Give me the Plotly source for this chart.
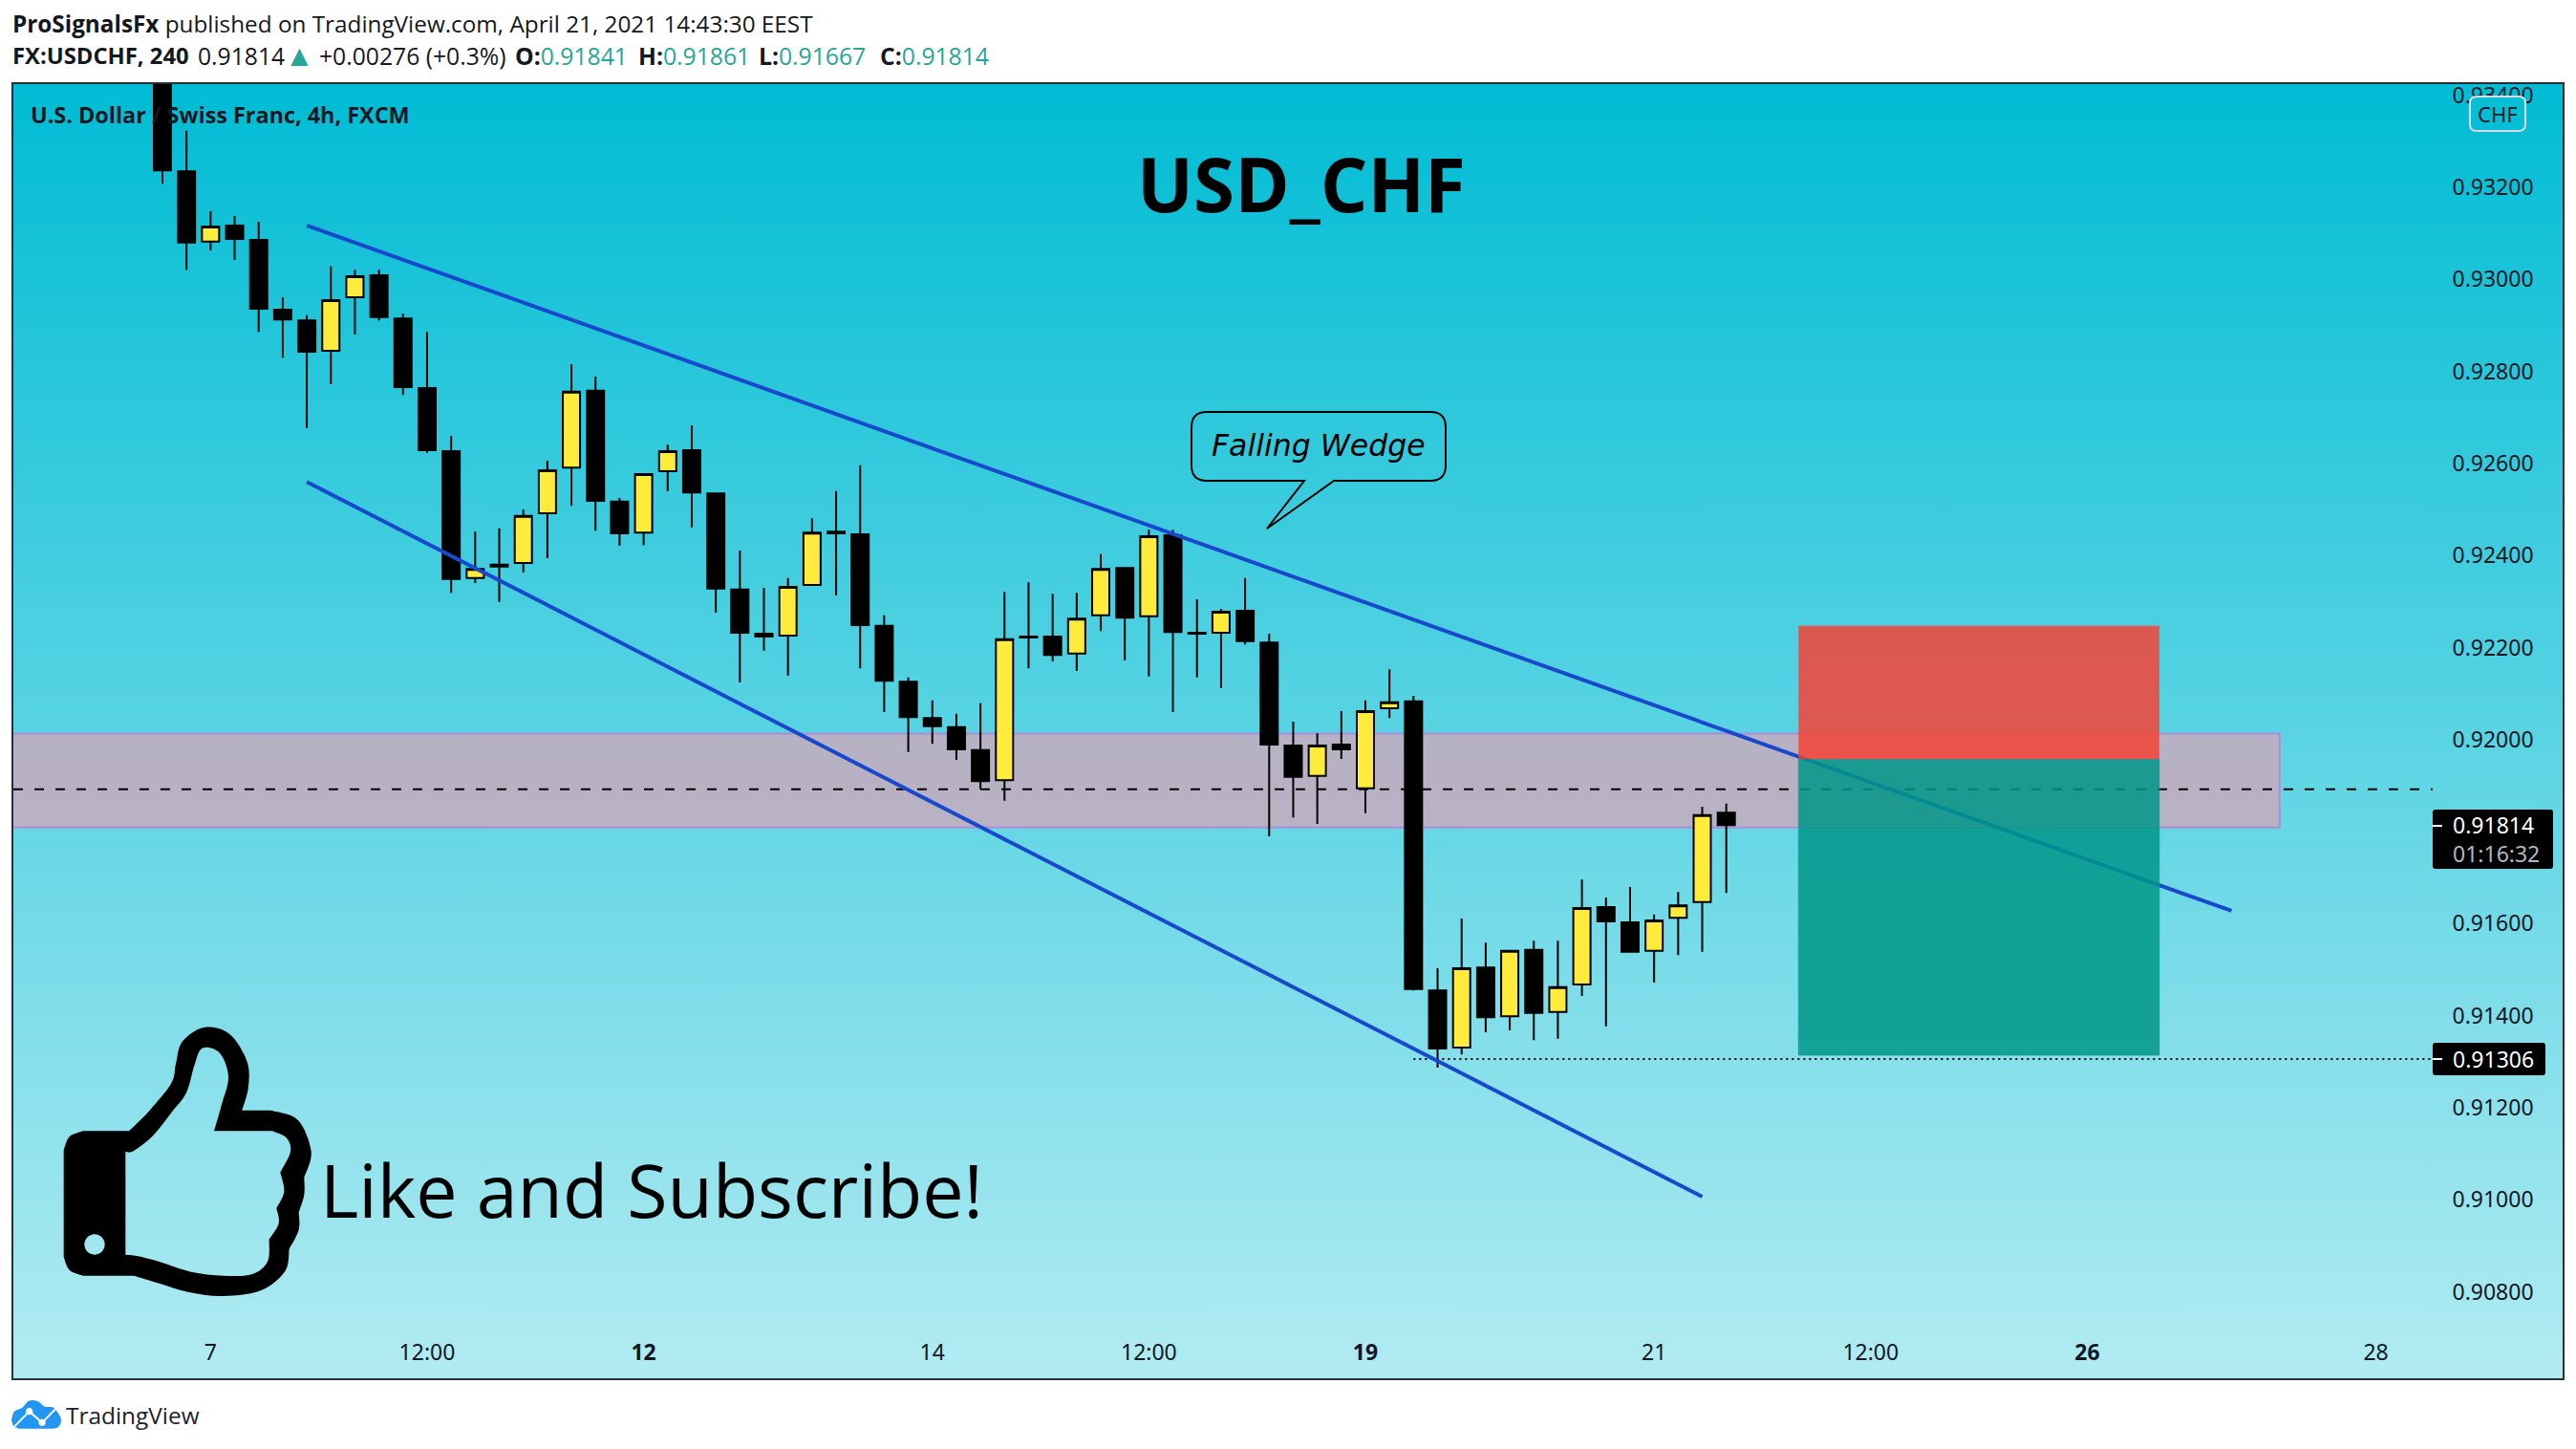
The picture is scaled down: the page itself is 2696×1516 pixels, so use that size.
import base64
import math
import plotly.graph_objects as go

# ---------- data ----------
bar_index = list(range(66))
opens = [.93482,.93235,.93082,.93117,.93086,.92934,.92911,.92845,.92961,.93009,.92915,.92764,.92627,.92351,.92380,.92384,.92492,.92591,.92758,.92517,.92450,.92583,.92629,.92535,.92326,.92230,.92226,.92336,.92452,.92446,.92247,.92126,.92047,.92027,.91977,.91912,.92224,.92224,.92187,.92270,.92373,.92268,.92444,.92232,.92232,.92280,.92211,.91987,.91921,.91989,.91894,.92068,.92083,.91455,.91331,.91505,.91399,.91543,.91408,.91468,.91636,.91603,.91541,.91613,.91647,.91841]
highs = [.93520,.93323,.93148,.93138,.93125,.92961,.92922,.93028,.93021,.93021,.92926,.92886,.92660,.92452,.92459,.92500,.92606,.92816,.92789,.92525,.92579,.92641,.92683,.92535,.92411,.92330,.92351,.92481,.92540,.92596,.92270,.92135,.92085,.92056,.92079,.92321,.92342,.92317,.92319,.92403,.92373,.92456,.92456,.92305,.92284,.92351,.92230,.92039,.92014,.92062,.92085,.92153,.92095,.91503,.91611,.91559,.91543,.91563,.91563,.91696,.91657,.91680,.91620,.91669,.91854,.91861]
lows = [.93208,.93021,.93063,.93042,.92886,.92830,.92677,.92772,.92880,.92911,.92749,.92623,.92319,.92340,.92299,.92363,.92394,.92508,.92454,.92421,.92423,.92540,.92461,.92276,.92124,.92193,.92139,.92334,.92313,.92155,.92060,.91973,.91991,.91956,.91892,.91867,.92155,.92170,.92149,.92236,.92172,.92137,.92060,.92135,.92112,.92207,.91790,.91831,.91817,.91958,.91840,.92047,.91455,.91287,.91316,.91364,.91368,.91347,.91350,.91443,.91377,.91537,.91472,.91532,.91539,.91667]
closes = [.93237,.93080,.93115,.93088,.92936,.92913,.92843,.92955,.93007,.92918,.92766,.92629,.92349,.92371,.92376,.92486,.92585,.92756,.92519,.92448,.92577,.92627,.92537,.92328,.92232,.92224,.92332,.92450,.92448,.92249,.92128,.92049,.92029,.91979,.91910,.92218,.92222,.92184,.92263,.92371,.92265,.92442,.92234,.92230,.92278,.92214,.91989,.91919,.91987,.91979,.92062,.92081,.91458,.91329,.91503,.91397,.91541,.91406,.91462,.91634,.91605,.91539,.91607,.91640,.91836,.91814]

price_ticks = [.908,.910,.912,.914,.916,.920,.922,.924,.926,.928,.930,.932,.934]
time_tick_index = [2, 11, 20, 32, 41, 50, 62, 71, 80, 92]
time_tick_labels = ["7", "12:00", "<b>12</b>", "14", "12:00", "<b>19</b>", "21", "12:00", "<b>26</b>", "28"]

upper_trend = (6, .93117, 86, .91628)
lower_trend = (6, .92560, 64, .91007)
zone_high, zone_low, zone_end = .92013, .91809, 88
stop_price, entry_price, target_price = .92247, .91957, .91314
box_start, box_end = 68, 83
level_dashed, level_dotted = .91892, .91306
last_price_text, countdown_text, low_price_text = "0.91814", "01:16:32", "0.91306"

# ---------- geometry ----------
W, H = 2696, 1516
L, R, T, B = 14, 2682, 88, 1442
BAR_PX = 25.18
X_AT_0 = 170.0
PX_PER_PRICE = 48150.0
Y_REF_PRICE, Y_REF_PX = .932, 196.0
x_range = [(L - X_AT_0) / BAR_PX, (R - X_AT_0) / BAR_PX]
y_range = [Y_REF_PRICE - (B - Y_REF_PX) / PX_PER_PRICE, Y_REF_PRICE + (Y_REF_PX - T) / PX_PER_PRICE]
axis_end = (2546 - X_AT_0) / BAR_PX

INK = "#131722"
TEAL = "#26a69a"
AXIS_FONT = "Noto Sans"
SIZE_AXIS = 23


def px(x, y):
    return (x - L) / (R - L), 1 - (y - T) / (B - T)


def fmt(x, y):
    a, b = px(x, y)
    return f"{a:.6f} {b:.6f}"


def smooth(points):
    """Catmull-Rom curve through points, after an existing current point."""
    out = []
    n = len(points)
    for i in range(n - 1):
        p0 = points[max(i - 1, 0)]
        p1 = points[i]
        p2 = points[i + 1]
        p3 = points[min(i + 2, n - 1)]
        c1 = (p1[0] + (p2[0] - p0[0]) / 6, p1[1] + (p2[1] - p0[1]) / 6)
        c2 = (p2[0] - (p3[0] - p1[0]) / 6, p2[1] - (p3[1] - p1[1]) / 6)
        out.append(f"C {fmt(*c1)} {fmt(*c2)} {fmt(*p2)}")
    return " ".join(out)


def curve_path(segments):
    """segments: list of point lists; each begins where the previous ended."""
    s = "M " + fmt(*segments[0][0])
    for seg in segments:
        s += " " + smooth(seg)
    return s + " Z"


def z7(points):
    """Convert coordinates measured on the 3x crop of the bottom-left corner."""
    return [(x / 3, 1040 + y / 3) for x, y in points]


def round_rect(x0, y0, x1, y1, r):
    return (f"M {fmt(x0 + r, y0)} L {fmt(x1 - r, y0)} Q {fmt(x1, y0)} {fmt(x1, y0 + r)} "
            f"L {fmt(x1, y1 - r)} Q {fmt(x1, y1)} {fmt(x1 - r, y1)} L {fmt(x0 + r, y1)} "
            f"Q {fmt(x0, y1)} {fmt(x0, y1 - r)} L {fmt(x0, y0 + r)} Q {fmt(x0, y0)} {fmt(x0 + r, y0)} Z")


def circle_pts(cx, cy, r, n=24):
    return [(cx + r * math.cos(2 * math.pi * k / n), cy + r * math.sin(2 * math.pi * k / n)) for k in range(n + 1)]


def paper_shape(path, **kw):
    return dict(type="path", xref="paper", yref="paper", path=path, **kw)


def note(text, x, y, size, color=INK, family="Open Sans", anchor="left", **kw):
    a, b = px(x, y)
    return dict(text=text, x=a, y=b, xref="paper", yref="paper", xanchor=anchor, yanchor="middle",
                showarrow=False, align=anchor if anchor != "middle" else "center", borderpad=0,
                font=dict(size=size, color=color, family=family, **kw))


# ---------- background gradient ----------
svg = ('<svg xmlns="http://www.w3.org/2000/svg" width="100" height="100" viewBox="0 0 100 100" preserveAspectRatio="none">'
       '<defs><linearGradient id="g" x1="0" y1="0" x2="0" y2="1"><stop offset="0" stop-color="#00bcd4"/>'
       '<stop offset="1" stop-color="#b2ebf2"/></linearGradient></defs><rect width="100" height="100" fill="url(#g)"/></svg>')
bg = "data:image/svg+xml;base64," + base64.b64encode(svg.encode()).decode()

fig = go.Figure(go.Candlestick(
    x=bar_index, open=opens, high=highs, low=lows, close=closes,
    increasing=dict(line=dict(color="#000000", width=2), fillcolor="#ffeb3b"),
    decreasing=dict(line=dict(color="#000000", width=2), fillcolor="#000000"),
    showlegend=False, hoverinfo="skip",
))

# ---------- shapes ----------
shapes = [
    dict(type="rect", x0=x_range[0] - 2, x1=zone_end, y0=zone_low, y1=zone_high, layer="below",
         fillcolor="rgba(206,167,188,0.8)", line=dict(color="rgba(178,130,222,0.85)", width=2)),
    dict(type="line", x0=x_range[0], x1=axis_end, y0=level_dashed, y1=level_dashed,
         line=dict(color="#000000", width=2, dash="10px,12px")),
    dict(type="line", x0=52, x1=axis_end, y0=level_dotted, y1=level_dotted,
         line=dict(color="#000000", width=2, dash="2px,4px")),
    dict(type="line", x0=upper_trend[0], y0=upper_trend[1], x1=upper_trend[2], y1=upper_trend[3],
         line=dict(color="#1848cc", width=4)),
    dict(type="line", x0=lower_trend[0], y0=lower_trend[1], x1=lower_trend[2], y1=lower_trend[3],
         line=dict(color="#1848cc", width=4)),
    dict(type="rect", x0=box_start, x1=box_end, y0=entry_price, y1=stop_price,
         fillcolor="rgba(244,67,54,0.85)", line=dict(width=0)),
    dict(type="rect", x0=box_start, x1=box_end, y0=target_price, y1=entry_price,
         fillcolor="rgba(0,150,136,0.85)", line=dict(color="rgba(0,150,136,0.5)", width=1)),
]

# speech bubble
r_b = 16
bubble = (f"M {fmt(1247 + r_b, 431)} L {fmt(1513 - r_b, 431)} Q {fmt(1513, 431)} {fmt(1513, 431 + r_b)} L {fmt(1513, 503 - r_b)} "
          f"Q {fmt(1513, 503)} {fmt(1513 - r_b, 503)} L {fmt(1396, 503)} L {fmt(1326, 553)} L {fmt(1365, 503)} "
          f"L {fmt(1247 + r_b, 503)} Q {fmt(1247, 503)} {fmt(1247, 503 - r_b)} L {fmt(1247, 431 + r_b)} Q {fmt(1247, 431)} {fmt(1247 + r_b, 431)} Z")
shapes.append(paper_shape(bubble, line=dict(color="#000000", width=2)))

# price badges
shapes.append(paper_shape(round_rect(2546, 847, 2672, 909, 3), fillcolor="#000000", line=dict(width=0)))
shapes.append(paper_shape(round_rect(2546, 1091, 2664, 1125, 3), fillcolor="#000000", line=dict(width=0)))
shapes.append(paper_shape(f"M {fmt(2546, 864)} L {fmt(2556, 864)}", line=dict(color="#ffffff", width=2)))
shapes.append(paper_shape(f"M {fmt(2546, 1108)} L {fmt(2556, 1108)}", line=dict(color="#ffffff", width=2)))

# currency badge
shapes.append(paper_shape(round_rect(2585, 101, 2643, 137, 7), fillcolor="#08bed6",
                          line=dict(color="#d5dbe0", width=2)))

# thumbs-up
outer = [
    z7([(260, 430), (405, 430)]),
    z7([(405, 430), (470, 365), (538, 280), (552, 220), (572, 150), (640, 105), (720, 125), (775, 210), (780, 290), (760, 365)]),
    z7([(760, 365), (850, 365)]),
    z7([(850, 365), (935, 395), (977, 495), (955, 575)]),
    z7([(955, 575), (955, 630), (938, 685)]),
    z7([(938, 685), (938, 740), (908, 800)]),
    z7([(908, 800), (895, 870), (820, 930), (700, 948), (590, 935), (500, 908), (420, 884)]),
    z7([(420, 884), (260, 884)]),
    z7([(260, 884), (218, 866), (200, 825)]),
    z7([(200, 825), (200, 490)]),
    z7([(200, 490), (218, 448), (260, 430)]),
]
inner = [
    z7([(394, 495), (420, 492), (480, 445), (540, 370), (585, 310), (610, 225), (635, 170), (690, 185), (717, 260), (695, 350), (672, 430)]),
    z7([(672, 430), (855, 430)]),
    z7([(855, 430), (900, 452), (912, 495), (880, 560)]),
    z7([(880, 560), (892, 620), (868, 672)]),
    z7([(868, 672), (875, 720), (845, 770)]),
    z7([(845, 770), (840, 840), (790, 880), (700, 884), (600, 872), (500, 840), (430, 822), (394, 818)]),
    z7([(394, 818), (394, 495)]),
]
hole = [z7(circle_pts(297, 786, 32))]
shapes.append(paper_shape(curve_path(outer) + " " + curve_path(inner) + " " + curve_path(hole),
                          fillcolor="#000000", fillrule="evenodd", line=dict(width=0)))

# TradingView logo
cloud = [
    z7([(36, 1335), (45, 1310), (70, 1298), (90, 1277), (118, 1278), (140, 1295), (165, 1297), (182, 1315), (192, 1338), (184, 1358), (168, 1364)]),
    z7([(168, 1364), (60, 1364)]),
    z7([(60, 1364), (42, 1355), (36, 1335)]),
]
shapes.append(paper_shape(curve_path(cloud), fillcolor="#2196f3", line=dict(width=0)))
a, b, c, d = z7([(45, 1358), (92, 1310), (132, 1345), (175, 1302)])
shapes.append(paper_shape(f"M {fmt(*a)} L {fmt(*b)} L {fmt(*c)} L {fmt(*d)}", line=dict(color="#ffffff", width=2)))
shapes.append(paper_shape(curve_path([z7(circle_pts(92, 1310, 11))]), fillcolor="#ffffff", line=dict(width=0)))
shapes.append(paper_shape(curve_path([z7(circle_pts(132, 1345, 11))]), fillcolor="#ffffff", line=dict(width=0)))

# ---------- texts ----------
def teal(s):
    return f'<span style="color:{TEAL}">{s}</span>'


badge_text = (last_price_text + '<br><span style="color:#b2b5be">' + countdown_text + "</span>")
annotations = [
    note("<b>ProSignalsFx</b> published on TradingView.com, April 21, 2021 14:43:30 EEST", 12, 24, 24.3),
    note("<b>FX:USDCHF, 240</b>", 12, 58, 23.8),
    note("0.91814", 206, 58, 24.7),
    note("▲", 313, 57, 31, color=TEAL, anchor="center"),
    note("+0.00276 (+0.3%)", 333, 58, 24.7),
    note("<b>O:</b>" + teal("0.91841"), 538, 58, 24.7),
    note("<b>H:</b>" + teal("0.91861"), 667, 58, 24.7),
    note("<b>L:</b>" + teal("0.91667"), 793, 58, 24.7),
    note("<b>C:</b>" + teal("0.91814"), 920, 58, 24.7),
    note("<b>U.S. Dollar / Swiss Franc, 4h, FXCM</b>", 31, 120, 23.4),
    note("<b>USD_CHF</b>", 1362, 192, 78, color="#000000", anchor="center"),
    note("Like and Subscribe!", 334, 1244, 77.2, color="#000000"),
    note("<i>Falling Wedge</i>", 1380, 466, 31.5, color="#000000", family="DejaVu Sans", anchor="center"),
    note("CHF", 2614, 119, 22, family=AXIS_FONT, anchor="center"),
    note(badge_text, 2566, 878, SIZE_AXIS, color="#ffffff", family=AXIS_FONT),
    note(low_price_text, 2566, 1108, SIZE_AXIS, color="#ffffff", family=AXIS_FONT),
    note("TradingView", 68, 1480, 24.4, color="#1e222d"),
]

fig.update_layout(
    width=W, height=H,
    margin=dict(l=L, r=W - R, t=T, b=H - B, pad=0),
    paper_bgcolor="#ffffff", plot_bgcolor="rgba(0,0,0,0)",
    boxgap=0.285, boxgroupgap=0,
    showlegend=False,
    shapes=shapes,
    annotations=annotations,
    images=[dict(source=bg, xref="paper", yref="paper", x=0, y=1, sizex=1, sizey=1,
                 xanchor="left", yanchor="top", sizing="stretch", layer="below")],
    xaxis=dict(type="linear", range=x_range, rangeslider=dict(visible=False), showgrid=False, zeroline=False,
               tickmode="array", tickvals=time_tick_index, ticktext=time_tick_labels,
               ticks="inside", ticklen=16, tickcolor="rgba(0,0,0,0)", ticklabelposition="inside",
               tickfont=dict(family=AXIS_FONT, size=SIZE_AXIS, color=INK),
               showline=True, mirror=True, linecolor="#2a2e39", linewidth=2),
    yaxis=dict(type="linear", range=y_range, side="right", showgrid=False, zeroline=False,
               tickmode="array", tickvals=price_ticks, ticktext=[f"{v:.5f}" for v in price_ticks],
               ticks="inside", ticklen=32, tickcolor="rgba(0,0,0,0)", ticklabelposition="inside",
               ticklabeloverflow="allow",
               tickfont=dict(family=AXIS_FONT, size=SIZE_AXIS, color=INK),
               showline=True, mirror=True, linecolor="#2a2e39", linewidth=2),
)

fig.write_html("out.html", config=dict(displayModeBar=False),
               post_script="document.body.style.margin='0';document.documentElement.style.overflow='hidden';")
